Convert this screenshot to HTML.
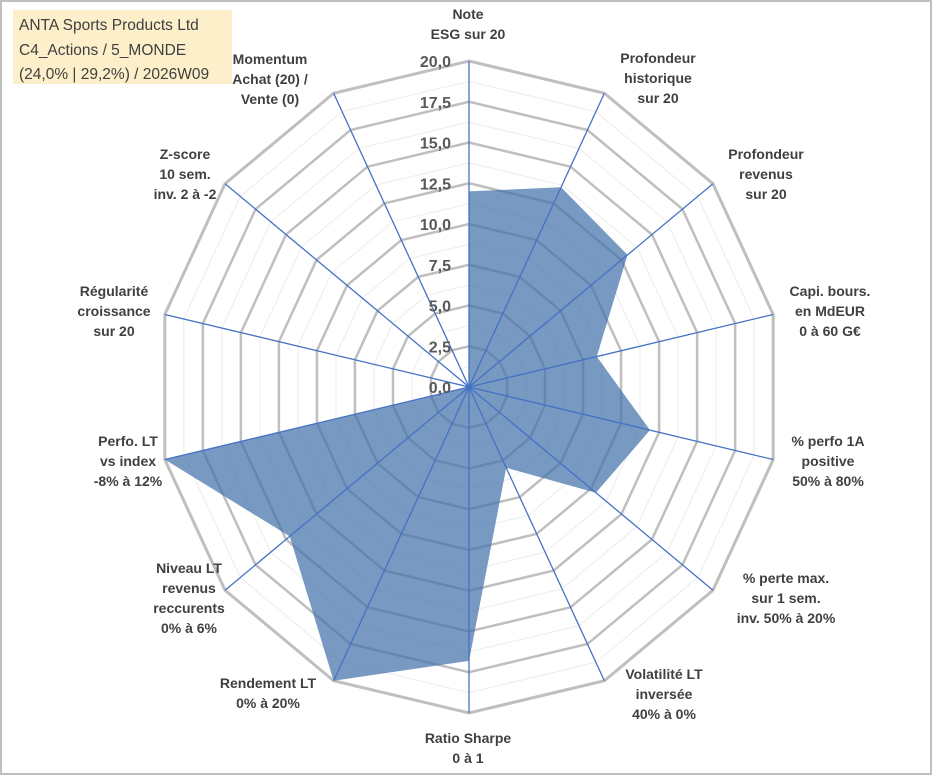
<!DOCTYPE html>
<html><head><meta charset="utf-8"><style>
body{margin:0;background:#fff;}
#wrap{position:relative;width:933px;height:776px;overflow:hidden;}
svg{position:absolute;left:0;top:0;}
.lbl{font-family:"Liberation Sans",sans-serif;font-weight:bold;font-size:14px;fill:#404040;}
.tick{font-family:"Liberation Sans",sans-serif;font-weight:bold;font-size:16px;fill:#595959;}
.ttl{font-family:"Liberation Sans",sans-serif;font-size:15.5px;fill:#404040;}
</style></head><body>
<div id="wrap">
<svg id="chart" width="933" height="776">
<rect x="1" y="1" width="930" height="773" fill="#fff" stroke="#bfbfbf" stroke-width="2"/>
<rect x="13" y="10" width="219" height="74" fill="#fdefc9"/>
<text class="ttl" x="19" y="30">ANTA Sports Products Ltd</text>
<text class="ttl" x="19" y="55">C4_Actions / 5_MONDE</text>
<text class="ttl" x="19" y="79">(24,0% | 29,2%) / 2026W09</text>
</svg>
</div>
<script>
const categories=[
 ["Note","ESG sur 20"],
 ["Profondeur","historique","sur 20"],
 ["Profondeur","revenus","sur 20"],
 ["Capi. bours.","en MdEUR","0 à 60 G€"],
 ["% perfo 1A","positive","50% à 80%"],
 ["% perte max.","sur 1 sem.","inv. 50% à 20%"],
 ["Volatilité LT","inversée","40% à 0%"],
 ["Ratio Sharpe","0 à 1"],
 ["Rendement LT","0% à 20%"],
 ["Niveau LT","revenus","reccurents","0% à 6%"],
 ["Perfo. LT","vs index","-8% à 12%"],
 ["Régularité","croissance","sur 20"],
 ["Z-score","10 sem.","inv. 2 à -2"],
 ["Momentum","Achat (20) /","Vente (0)"]
];
const values=[12,13.6,13,8.4,11.9,10.4,5.5,16.8,20,14.7,20,0,0,0];
const tickValues=[0,2.5,5,7.5,10,12.5,15,17.5,20];
const tickLabels=["0,0","2,5","5,0","7,5","10,0","12,5","15,0","17,5","20,0"];
const labelPos=[[468,24],[658,78],[766,174],[830,311],[828,461],[786,598],[664,694],[468,748],[268,693],[189,598],[128,461],[114,311],[185,174],[270,79]];

const svg=document.getElementById('chart');
const NS='http://www.w3.org/2000/svg';
const cx=469,cy=387,rx=312,ry=326,maxV=20,n=categories.length;
function pt(i,v){const a=2*Math.PI*i/n;return [cx+Math.sin(a)*rx*v/maxV, cy-Math.cos(a)*ry*v/maxV];}
function mk(tag,attrs){const e=document.createElementNS(NS,tag);for(const k in attrs)e.setAttribute(k,attrs[k]);svg.appendChild(e);return e;}
for(let v=1.25;v<maxV;v+=2.5){
 const p=[];for(let i=0;i<n;i++)p.push(pt(i,v).join(','));
 const e=mk('polygon',{points:p.join(' '),fill:'none',stroke:'#ececec','stroke-width':1});
 
 
}
tickValues.forEach((v,k)=>{
 if(v===0)return;
 const p=[];for(let i=0;i<n;i++)p.push(pt(i,v).join(','));
 const e=mk('polygon',{points:p.join(' '),fill:'none',stroke:'#bfbfbf','stroke-width':v===maxV?3:2.5});
 
 
});
const sp=values.map((v,i)=>pt(i,v).join(',')).join(' ');
const poly=mk('polygon',{points:sp,fill:'rgba(68,114,170,0.72)',stroke:'none'});


for(let i=0;i<n;i++){
 const [x,y]=pt(i,maxV);
 const l=mk('line',{x1:cx,y1:cy,x2:x,y2:y,stroke:'#4472c4','stroke-width':1.3});
 
 
}
tickValues.forEach((v,k)=>{
 const t=mk('text',{x:cx-18,y:cy-ry*v/maxV+6,'text-anchor':'end',class:'tick'});
 t.textContent=tickLabels[k];
 
 
});
categories.forEach((lines,i)=>{
 const [x,y]=labelPos[i];
 const t=mk('text',{x:x,y:y,'text-anchor':'middle',class:'lbl'});
 
 
 const h=20,y0=y+5-(lines.length-1)*h/2;
 lines.forEach((s,j)=>{const ts=document.createElementNS(NS,'tspan');ts.setAttribute('x',x);ts.setAttribute('y',y0+j*h);ts.textContent=s;t.appendChild(ts);});
});
</script>
</body></html>
